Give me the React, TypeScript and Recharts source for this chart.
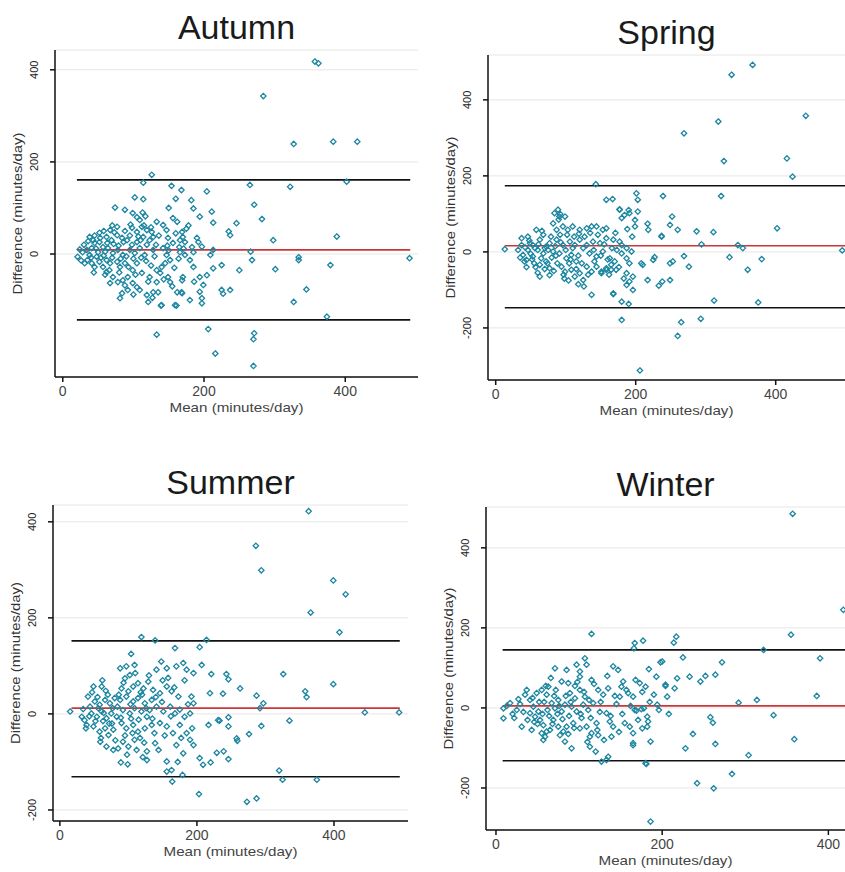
import {
  ScatterChart,
  Scatter,
  XAxis,
  YAxis,
  CartesianGrid,
  ReferenceLine,
  Label,
} from "recharts";

type Pt = [number, number];

// mean (minutes/day), difference (minutes/day)
const autumnPts: Pt[] = [
  [357, 418], [362, 414], [284, 343], [327, 239], [383, 244], [417, 244], [126, 172], [114, 155],
  [265, 150], [322, 146], [402, 157], [154, 148], [168, 139], [204, 136], [102, 123], [114, 119],
  [271, 107], [182, 117], [185, 99], [74, 101], [88, 96], [194, 81], [211, 92], [282, 76],
  [246, 67], [213, 68], [235, 49], [237, 41], [388, 38], [298, 30], [213, 9], [197, 16],
  [266, 5], [268, -13], [334, -7], [334, -13], [209, -2], [491, -9], [379, -24], [225, -24],
  [213, -31], [301, -33], [250, -35], [204, -46], [199, -67], [225, -78], [237, -78], [227, -86],
  [345, -77], [194, -82], [197, -96], [197, -107], [180, -100], [161, -112], [139, -112], [327, -104],
  [168, -83], [374, -136], [133, -175], [206, -163], [271, -172], [270, -185], [216, -216], [270, -243],
  [21, -6], [38, 37], [43, 30], [52, 46], [67, 52], [99, 89], [105, 80], [109, 74],
  [133, 70], [142, 63], [147, 52], [156, 78], [162, 70], [169, 48], [170, 37], [173, 26],
  [190, 35], [192, 26], [119, 52], [114, 37], [123, 30], [119, 20], [91, 30], [98, 20],
  [105, 26], [128, 9], [142, 13], [147, -2], [152, -13], [166, 4], [173, -2], [180, -13],
  [185, -28], [170, -50], [169, -57], [162, -83], [169, -85], [194, -50], [109, -78], [119, -89],
  [121, -104], [128, -83], [135, -83], [140, -111], [159, -111], [99, -63], [105, -72], [71, -50],
  [78, -61], [67, -63], [57, -28], [62, -39], [85, -57], [92, -50], [99, -35], [105, -20],
  [112, -41], [138, -41], [140, -28], [35, -13], [41, -20], [48, -6], [45, -28], [52, -17],
  [34, 9], [41, 13], [50, 4], [57, 15], [64, 13], [71, 2], [78, 9], [85, -2],
  [95, 9], [102, 2], [109, 13], [116, -2], [62, 37], [69, 30], [77, 41], [84, 35],
  [77, 59], [54, -8], [62, -13], [67, -20], [77, -17], [81, -28], [88, -20], [45, 24],
  [52, 26], [38, -2], [28, 4], [98, 57], [105, 48], [112, 59], [126, 48], [128, 37],
  [149, 35], [156, 24], [166, 30], [183, 15], [185, 4], [133, -35], [123, -50], [133, -61],
  [149, -50], [152, -61], [84, -85], [92, -78], [81, -96], [30, 20], [26, -14], [45, 40],
  [60, -45], [72, 22], [90, -5], [100, -10], [110, 30], [118, -15], [125, -25], [132, 20],
  [145, -20], [150, 8], [158, -30], [165, 15], [175, 55], [60, 5], [70, -8], [95, 40],
  [115, 62], [80, -40], [88, 50],
  [24, 10], [31, -20], [36, 28], [40, -8], [47, 12], [53, 35], [58, -3], [63, 24],
  [66, -35], [73, 47], [79, 18], [82, -10], [86, 26], [93, -28], [96, 64], [103, -45],
  [107, 38], [111, -8], [117, 82], [121, -60], [125, 58], [130, -5], [136, 40], [143, -55],
  [148, 18], [155, -70], [160, 45], [164, -10], [171, 12], [178, 62], [186, -60], [58, 50],
  [88, -68], [100, -88], [127, -95], [44, -40], [70, 62], [113, 90], [150, 100], [160, 120],
];

const springPts: Pt[] = [
  [337, 466], [367, 492], [318, 343], [443, 358], [269, 312], [326, 239], [416, 246], [424, 198],
  [143, 178], [322, 147], [239, 147], [158, 137], [167, 139], [201, 154], [203, 137], [190, 110],
  [177, 112], [252, 93], [249, 71], [260, 58], [217, 74], [287, 54], [311, 52], [402, 62],
  [237, 42], [294, 20], [346, 18], [353, 10], [495, 4], [334, -14], [380, -19], [360, -47],
  [269, -11], [276, -39], [249, -30], [253, -25], [227, -14], [210, -34], [217, -74], [233, -89],
  [249, -74], [238, -78], [312, -128], [375, -133], [137, -113], [168, -111], [180, -131], [190, -137],
  [187, -87], [196, -100], [180, -179], [265, -185], [293, -176], [260, -221], [206, -312], [126, -91],
  [151, -52], [158, -47], [165, -47],
  [13, 7], [37, 36], [46, 40], [49, 23], [58, 58], [63, 32], [68, 45], [32, 5],
  [39, -8], [44, -21], [53, -12], [63, -34], [72, -25], [77, -43], [63, -65], [77, -61],
  [84, 102], [89, 111], [91, 93], [99, 93], [82, 75], [87, 58], [96, 67], [103, 58],
  [110, 67], [120, 58], [130, 62], [137, 67], [144, 67], [153, 58], [158, 62], [77, 23],
  [87, 32], [96, 18], [106, 27], [113, 18], [120, 32], [130, 18], [139, 27], [149, 23],
  [158, 36], [168, 32], [177, 27], [91, -4], [101, -17], [108, -8], [115, -25], [94, -39],
  [99, -52], [108, -47], [113, -65], [120, -56], [125, -74], [130, -39], [137, -52], [144, -39],
  [151, -56], [158, -43], [165, -34], [172, -47], [134, -4], [144, -12], [153, 1], [163, -17],
  [170, -25], [180, -4], [187, -17], [191, -30], [180, 18], [187, 10], [194, 1], [177, 111],
  [180, 89], [184, 97], [191, 102], [199, 84], [203, 106], [199, 67], [218, 58], [187, -56],
  [191, -78], [196, -65], [168, -109], [208, -30], [225, -21], [237, 40], [53, 18], [46, 5],
  [37, 18], [41, -25], [60, 5], [68, -4], [72, 14], [82, 1], [65, -17], [50, -5],
  [56, 10], [75, 5], [80, -15], [85, 15], [92, 45], [100, 5], [105, -30], [112, 40],
  [118, -10], [125, 10], [140, 5], [55, -30], [70, -45], [98, -70], [118, -85], [160, -20],
  [173, 5],
  [35, -15], [42, 12], [48, 30], [52, -20], [57, -40], [61, 20], [66, 55], [70, 10],
  [74, -30], [79, 40], [83, -50], [86, -10], [90, 85], [93, 25], [97, -60], [102, 45],
  [107, -20], [110, 10], [115, -45], [119, 48], [123, -30], [127, 40], [132, -60], [135, 50],
  [141, -25], [146, 45], [150, -10], [155, 20], [162, -60], [166, 10], [171, 50], [176, -40],
  [183, -70], [188, 60], [195, 40], [44, -40], [92, 100], [88, -30], [60, -55], [104, -75],
];

const summerPts: Pt[] = [
  [363, 422], [286, 350], [294, 299], [399, 278], [417, 249], [366, 211], [408, 170], [119, 160],
  [139, 153], [214, 154], [204, 139], [168, 137], [104, 125], [207, 102], [221, 83], [243, 83],
  [246, 72], [326, 83], [263, 53], [399, 62], [358, 47], [360, 35], [238, 42], [219, 43],
  [287, 38], [297, 22], [292, 12], [445, 3], [495, 3], [335, -14], [294, -25], [276, -42],
  [258, -51], [259, -56], [246, -7], [246, -26], [217, -23], [231, -13], [233, -14], [239, -78],
  [246, -94], [229, -81], [220, -101], [209, -106], [204, -92], [127, -96], [89, -101], [156, -120],
  [164, -141], [179, -127], [320, -118], [325, -137], [375, -137], [203, -167], [273, -183], [287, -176],
  [15, 5], [32, -6], [36, -13], [39, -23], [41, 36], [49, 57], [61, 57], [51, 26],
  [58, 19], [66, 29], [73, 22], [80, 33], [46, 1], [54, -6], [61, 5], [68, -9],
  [75, 1], [83, -6], [49, -26], [58, -37], [66, -30], [71, -44], [78, -33], [68, -68],
  [78, -75], [85, -72], [88, 95], [97, 99], [102, 81], [109, 102], [95, 74], [90, 53],
  [100, 47], [107, 57], [114, 64], [122, 53], [129, 67], [88, 29], [97, 36], [107, 26],
  [114, 33], [124, 22], [134, 29], [92, 8], [102, 1], [109, 12], [119, 5], [127, -6],
  [90, -19], [97, -30], [107, -23], [114, -37], [124, -30], [134, -23], [92, -58], [100, -68],
  [109, -54], [112, -75], [127, -78], [139, -61], [156, -99], [163, -117], [141, 92], [148, 109],
  [156, 95], [170, 99], [136, 50], [146, 43], [156, 57], [163, 47], [173, 36], [141, 15],
  [151, 5], [161, 15], [168, 1], [175, 9], [182, -6], [146, -19], [156, -26], [165, -40],
  [175, -23], [185, -40], [190, -54], [170, -65], [180, -82], [195, -65], [180, 106], [185, 92],
  [195, 85], [192, 36], [195, 22], [190, 1], [56, 12], [63, -15], [70, 40], [76, -20],
  [84, 15], [95, -45], [104, -10], [117, -50], [120, 40], [131, 8], [138, -40], [150, 70],
  [44, 15], [60, -50],
  [34, 10], [38, -30], [43, -5], [47, 45], [52, -15], [55, 35], [59, -58], [64, 2],
  [67, 48], [72, -20], [77, 12], [81, -55], [86, 40], [89, -8], [93, 65], [98, -85],
  [103, 20], [106, -40], [110, 85], [115, -12], [118, 45], [123, -60], [126, 12], [130, 80],
  [135, -10], [140, 35], [144, -75], [149, 25], [153, -45], [158, 75], [162, -5], [167, 55],
  [172, -100], [177, -50], [182, 70], [187, 20], [193, -30], [99, -105], [62, 70], [121, -90],
];

const winterPts: Pt[] = [
  [357, 485], [418, 245], [355, 183], [322, 145], [390, 124], [386, 30], [314, 20], [292, 13],
  [334, -18], [359, -78], [304, -118], [284, -165], [262, -201], [242, -188], [186, -284], [115, 185],
  [217, 178], [214, 163], [167, 162], [177, 168], [166, 149], [272, 114], [264, 83], [252, 80],
  [233, 78], [246, 66], [225, 126], [198, 114], [184, 97], [193, 78], [204, 55], [206, 28],
  [218, 74], [215, 49], [208, -15], [258, -23], [261, -37], [264, -90], [237, -65], [228, -101],
  [186, -84], [183, -34], [176, -51], [181, -140], [165, -88], [169, -7], [175, -3],
  [9, -1], [9, -26], [17, 12], [25, -5], [31, -47], [35, 33], [41, 20], [45, 3],
  [51, -9], [47, -22], [41, -13], [49, 37], [55, 45], [61, 33], [63, 53], [53, -30],
  [57, -43], [61, -59], [55, -63], [59, -72], [67, 12], [71, -1], [75, 20], [79, -9],
  [83, 8], [69, -30], [75, -47], [81, -59], [77, -68], [85, -47], [71, 99], [79, 66],
  [85, 95], [87, 62], [97, 108], [101, 78], [89, 37], [95, 24], [101, 45], [107, 28],
  [91, 3], [97, -9], [105, 8], [111, -5], [117, 12], [93, -38], [101, -51], [109, -47],
  [115, -63], [121, -38], [83, -84], [91, -101], [113, -97], [120, -109], [113, -72], [123, -68],
  [107, 124], [109, 108], [101, 91], [115, 70], [123, 45], [129, 33], [135, 49], [133, -13],
  [137, -34], [141, -47], [139, -72], [141, 104], [147, 95], [151, 53], [153, 66], [149, 28],
  [159, 37], [165, 28], [168, 70], [173, 62], [180, 53], [155, -38], [161, -47], [165, -63],
  [165, -93], [167, -5], [178, -1], [194, 8], [196, -5], [182, -22], [182, -47], [190, 33],
  [200, 116], [204, 58], [133, -130], [135, -122], [127, -134], [180, -138], [29, 10], [38, -30],
  [44, 25], [50, -40], [58, 15], [64, -20], [70, 30], [74, -15], [88, -20], [95, 55],
  [103, -25], [112, 20], [125, -10], [145, 10], [20, -15], [65, -55],
  [13, 5], [22, -25], [27, 22], [33, -10], [37, 45], [43, -55], [46, -35], [52, 15],
  [56, -15], [60, 55], [62, -5], [68, -40], [72, 45], [76, 5], [80, -28], [84, 30],
  [87, -65], [90, 15], [94, -50], [98, 65], [102, -15], [106, 40], [110, -85], [114, -25],
  [118, 60], [122, -55], [126, 15], [130, -80], [134, 80], [138, -20], [143, 30], [148, -60],
  [152, -15], [157, 45], [162, 5], [171, -30], [176, 40], [185, 15], [66, 75], [57, -80],
];

// bias and limits of agreement, and the mean range they are drawn over
const autumnLimits = { mean: 9, upper: 161, lower: -143, from: 20, to: 492 };
const springLimits = { mean: 16, upper: 174, lower: -147, from: 13, to: 499 };
const summerLimits = { mean: 12, upper: 152, lower: -131, from: 17, to: 496 };
const winterLimits = { mean: 5, upper: 145, lower: -132, from: 8, to: 420 };

const xTicks = [0, 200, 400];
const yTicksAutumn = [0, 200, 400];
const yTicks = [-200, 0, 200, 400];

const TEAL = "#1c86a0";
const FONT = "'Liberation Sans', Arial, sans-serif";

const Diamond = (props: any) => {
  const { cx, cy } = props;
  if (cx == null || cy == null) return null;
  const r = 2.7;
  return (
    <path
      d={`M${cx},${cy - r}L${cx + r},${cy}L${cx},${cy + r}L${cx - r},${cy}Z`}
      fill="none"
      stroke={TEAL}
      strokeWidth={1.3}
    />
  );
};

const YTick = (props: any) => {
  const { x, y, payload } = props;
  const cx = x - 14;
  return (
    <text
      x={cx}
      y={y}
      transform={`rotate(-90 ${cx} ${y})`}
      textAnchor="middle"
      dominantBaseline="central"
      fontSize={11}
      fill="#222"
      fontFamily={FONT}
    >
      {payload.value}
    </text>
  );
};

type PanelProps = {
  title: string;
  pts: Pt[];
  lim: { mean: number; upper: number; lower: number; from: number; to: number };
  xDomain: [number, number];
  yDomain: [number, number];
  yTicks: number[];
  left: number;
  top: number;
  width: number;
  height: number;
  margin: { top: number; right: number; bottom: number; left: number };
};

function Panel(p: PanelProps) {
  const data = p.pts.map(([x, y]) => ({ x, y }));
  const plotLeft = p.margin.left + 40;
  const plotWidth = p.width - plotLeft - p.margin.right;
  return (
    <div style={{ position: "absolute", left: p.left, top: p.top, width: p.width, height: p.height }}>
      <div
        style={{
          position: "absolute",
          left: plotLeft,
          width: plotWidth,
          top: p.margin.top - 40,
          textAlign: "center",
          fontFamily: FONT,
          fontSize: 34,
          lineHeight: "34px",
          color: "#1a1a1a",
        }}
      >
        {p.title}
      </div>
      <ScatterChart width={p.width} height={p.height} margin={p.margin}>
        <CartesianGrid horizontal vertical={false} stroke="#e6e6e6" strokeWidth={1} />
        <XAxis
          type="number"
          dataKey="x"
          domain={p.xDomain}
          ticks={xTicks}
          allowDataOverflow
          height={28}
          tickSize={5}
          tickMargin={4}
          stroke="#111"
          strokeWidth={1.5}
          tick={{ fill: "#444", fontSize: 14, fontFamily: FONT }}
        >
          <Label
            content={(lp: any) => {
              const vb = lp.viewBox;
              return (
                <text
                  x={vb.x + vb.width / 2}
                  y={vb.y + 35}
                  textAnchor="middle"
                  fontSize={13}
                  textLength={134}
                  lengthAdjust="spacingAndGlyphs"
                  fill="#444"
                  fontFamily={FONT}
                >
                  Mean (minutes/day)
                </text>
              );
            }}
          />
        </XAxis>
        <YAxis
          type="number"
          dataKey="y"
          domain={p.yDomain}
          ticks={p.yTicks}
          allowDataOverflow
          width={40}
          tickSize={5}
          stroke="#111"
          strokeWidth={1.5}
          tick={<YTick />}
        >
          <Label
            content={(lp: any) => {
              const vb = lp.viewBox;
              const cx = vb.x + vb.width - 37;
              const cy = vb.y + vb.height / 2;
              return (
                <text
                  x={cx}
                  y={cy}
                  transform={`rotate(-90 ${cx} ${cy})`}
                  textAnchor="middle"
                  dominantBaseline="central"
                  fontSize={12}
                  textLength={162}
                  lengthAdjust="spacingAndGlyphs"
                  fill="#333"
                  fontFamily={FONT}
                >
                  Difference (minutes/day)
                </text>
              );
            }}
          />
        </YAxis>
        <Scatter data={data} shape={<Diamond />} isAnimationActive={false} />
        <ReferenceLine
          segment={[{ x: p.lim.from, y: p.lim.upper }, { x: p.lim.to, y: p.lim.upper }]}
          stroke="#111"
          strokeWidth={1.6}
        />
        <ReferenceLine
          segment={[{ x: p.lim.from, y: p.lim.mean }, { x: p.lim.to, y: p.lim.mean }]}
          stroke="#cc3636"
          strokeWidth={1.6}
        />
        <ReferenceLine
          segment={[{ x: p.lim.from, y: p.lim.lower }, { x: p.lim.to, y: p.lim.lower }]}
          stroke="#111"
          strokeWidth={1.6}
        />
      </ScatterChart>
    </div>
  );
}

export default function App() {
  return (
    <div style={{ position: "absolute", left: 0, top: 0, width: 845, height: 872, background: "#fff" }}>
      <Panel
        title="Autumn"
        pts={autumnPts}
        lim={autumnLimits}
        xDomain={[-11, 503]}
        yDomain={[-267, 443]}
        yTicks={yTicksAutumn}
        left={0}
        top={0}
        width={425}
        height={420}
        margin={{ top: 50, right: 7, bottom: 15, left: 15 }}
      />
      <Panel
        title="Spring"
        pts={springPts}
        lim={springLimits}
        xDomain={[-11, 499]}
        yDomain={[-337, 518]}
        yTicks={yTicks}
        left={420}
        top={0}
        width={425}
        height={420}
        margin={{ top: 55, right: 0, bottom: 12, left: 28 }}
      />
      <Panel
        title="Summer"
        pts={summerPts}
        lim={summerLimits}
        xDomain={[-10, 508]}
        yDomain={[-223, 435]}
        yTicks={yTicks}
        left={0}
        top={430}
        width={425}
        height={442}
        margin={{ top: 75, right: 17, bottom: 23, left: 13 }}
      />
      <Panel
        title="Winter"
        pts={winterPts}
        lim={winterLimits}
        xDomain={[-12, 420]}
        yDomain={[-305, 502]}
        yTicks={yTicks}
        left={420}
        top={430}
        width={425}
        height={442}
        margin={{ top: 77, right: 0, bottom: 14, left: 26 }}
      />
    </div>
  );
}
